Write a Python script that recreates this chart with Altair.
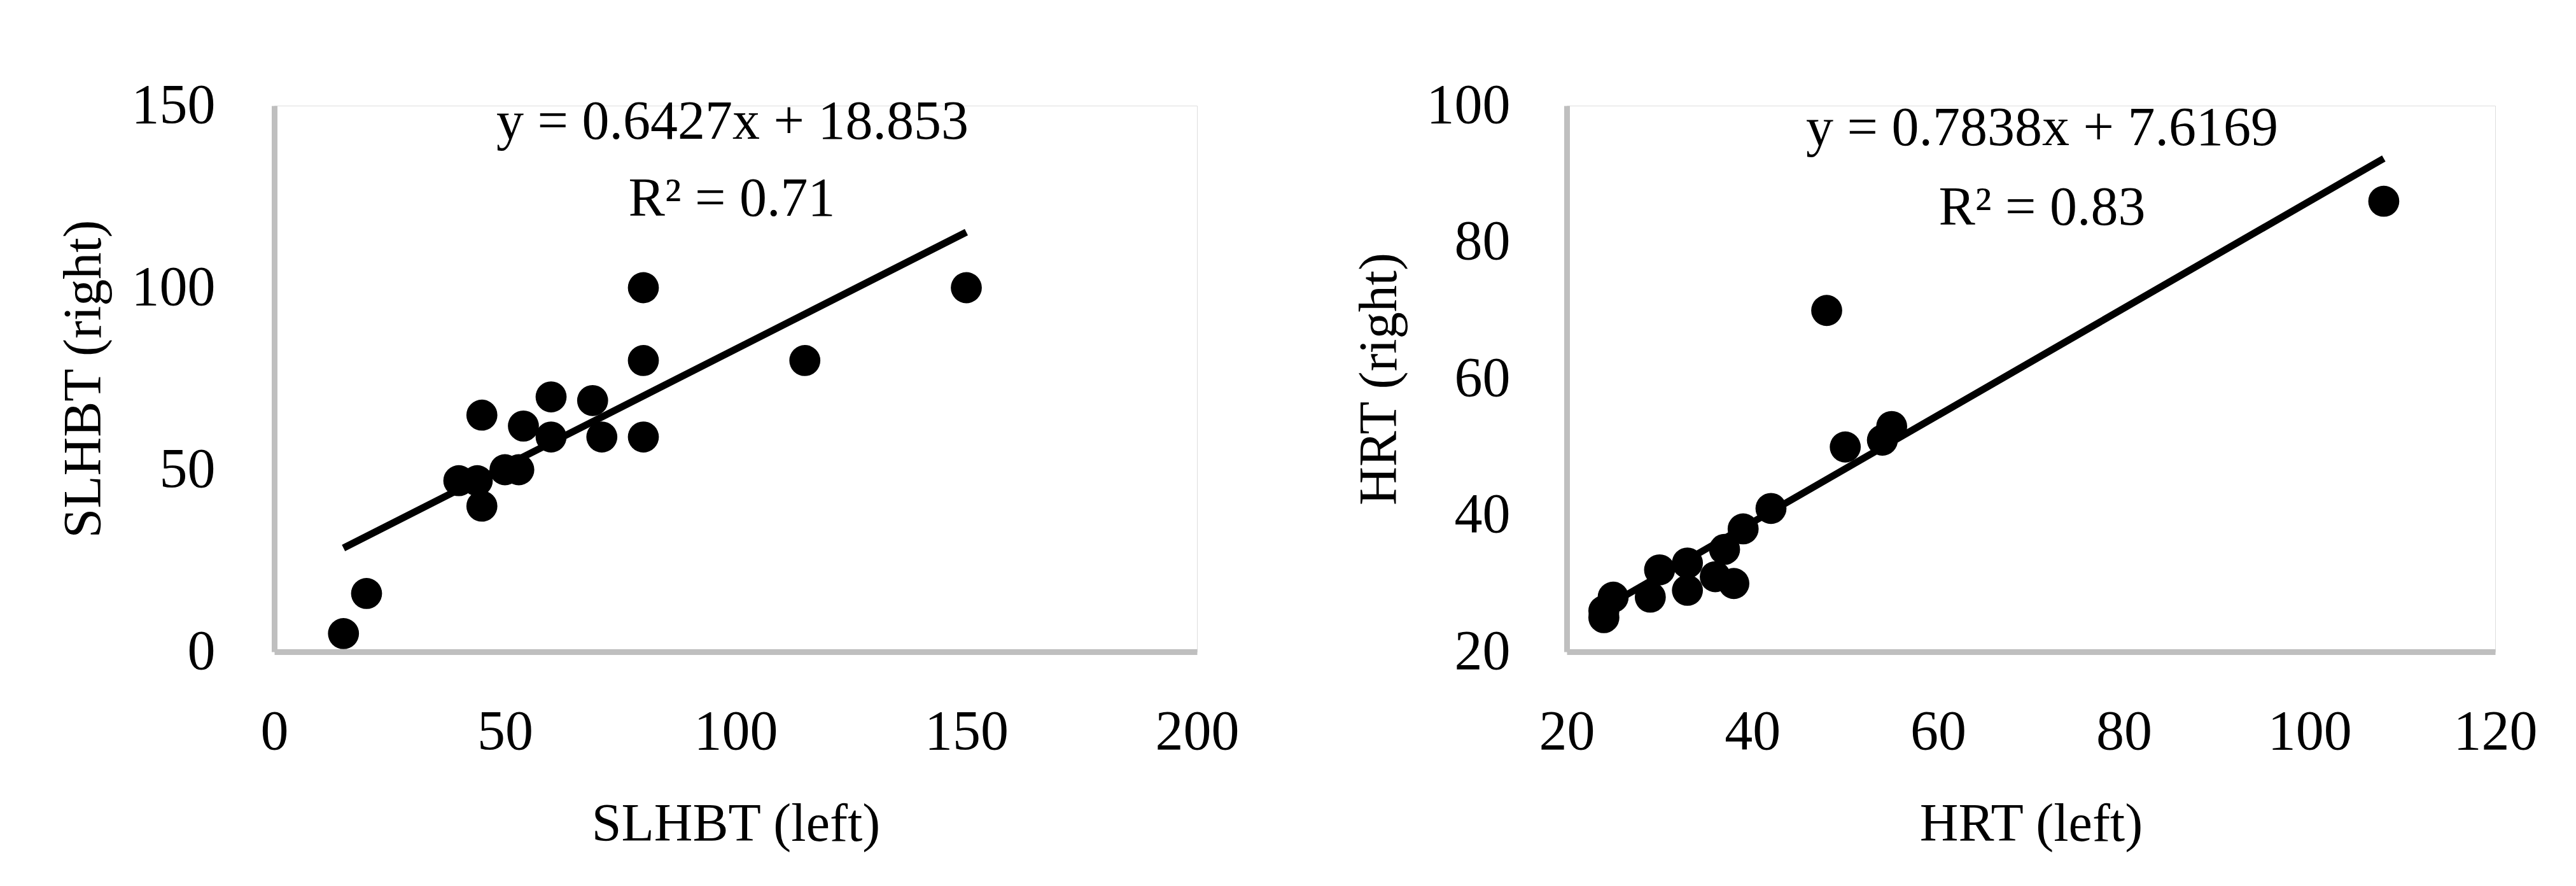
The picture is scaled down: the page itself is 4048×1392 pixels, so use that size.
import altair as alt
import pandas as pd

# ---- data ----
# Left panel: SLHBT (left) vs SLHBT (right)
slhbt_left = [15, 20, 40, 44, 45, 45, 50, 53, 54, 60, 60, 69, 71, 80, 80, 80, 115, 150]
slhbt_right = [5, 16, 47, 47, 65, 40, 50, 50, 62, 70, 59, 69, 59, 100, 80, 59, 80, 100]
# Right panel: HRT (left) vs HRT (right)
hrt_left = [24, 24, 25, 29, 30, 33, 33, 36, 37, 38, 39, 42, 48, 50, 54, 55, 108]
hrt_right = [25, 26, 28, 28, 32, 33, 29, 31, 35, 30, 38, 41, 70, 50, 51, 53, 86]

# Trend-line equations as printed on the chart
slopes = [0.6427, 0.7838]
intercepts = [18.853, 7.6169]
r2_values = ["0.71", "0.83"]
intercept_text = ["18.853", "7.6169"]

x_ticks_left = [0, 50, 100, 150, 200]
y_ticks_left = [0, 50, 100, 150]
x_ticks_right = [20, 40, 60, 80, 100, 120]
y_ticks_right = [20, 40, 60, 80, 100]

FONT = "Liberation Serif"
AXIS_GREY = "#BFBFBF"


def panel(xs, ys, k, xdom, ydom, xticks, yticks, xtitle, ytitle, width, height,
          eq_xy, r2_xy, ylab_pad, ytitle_x):
    df = pd.DataFrame({"x": xs, "y": ys})
    x0, x1 = min(xs), max(xs)
    line_df = pd.DataFrame({
        "x": [x0, x1],
        "y": [slopes[k] * x0 + intercepts[k], slopes[k] * x1 + intercepts[k]],
    })
    ann_df = pd.DataFrame({
        "eq": [f"y = {slopes[k]}x + {intercept_text[k]}"],
        "r2": [f"R\u00b2 = {r2_values[k]}"],
    })

    xscale = alt.Scale(domain=xdom, nice=False, zero=False)
    yscale = alt.Scale(domain=ydom, nice=False, zero=False)

    xaxis = alt.Axis(
        values=xticks, grid=False, ticks=False, tickSize=0,
        domainColor=AXIS_GREY, domainWidth=9,
        labelFont=FONT, labelFontSize=88, labelColor="black", labelPadding=82,
        labelFlush=False, labelOverlap=False,
        title=xtitle, titleFont=FONT, titleFontSize=84, titleFontWeight="normal",
        titleColor="black", titleX=width / 2, titleY=296,
        titleBaseline="alphabetic", titleAlign="center",
    )
    yaxis = alt.Axis(
        values=yticks, grid=False, ticks=False, tickSize=0,
        domainColor=AXIS_GREY, domainWidth=9,
        labelFont=FONT, labelFontSize=88, labelColor="black", labelPadding=ylab_pad,
        labelFlush=False, labelOverlap=False,
        title=ytitle, titleFont=FONT, titleFontSize=84, titleFontWeight="normal",
        titleColor="black", titleX=ytitle_x, titleY=height / 2, titleAngle=-90,
        titleBaseline="alphabetic", titleAlign="center",
    )

    pts = alt.Chart(df).mark_circle(size=2376, color="black", opacity=1).encode(
        x=alt.X("x:Q", scale=xscale, axis=xaxis),
        y=alt.Y("y:Q", scale=yscale, axis=yaxis),
    )
    line = alt.Chart(line_df).mark_line(color="black", strokeWidth=11).encode(
        x=alt.X("x:Q", scale=xscale),
        y=alt.Y("y:Q", scale=yscale),
    )
    eq = alt.Chart(ann_df).mark_text(
        font=FONT, fontSize=86, color="black", align="center", baseline="alphabetic"
    ).encode(x=alt.value(eq_xy[0]), y=alt.value(eq_xy[1]), text="eq:N")
    r2 = alt.Chart(ann_df).mark_text(
        font=FONT, fontSize=86, color="black", align="center", baseline="alphabetic"
    ).encode(x=alt.value(r2_xy[0]), y=alt.value(r2_xy[1]), text="r2:N")

    return alt.layer(pts, line, eq, r2).properties(width=width, height=height)


left = panel(slhbt_left, slhbt_right, 0, [0, 200], [0, 150],
             x_ticks_left, y_ticks_left, "SLHBT (left)", "SLHBT (right)",
             1450, 858, (720, 52), (719, 173), 93, -274)
right = panel(hrt_left, hrt_right, 1, [20, 120], [20, 100],
              x_ticks_right, y_ticks_right, "HRT (left)", "HRT (right)",
              1459, 858, (747, 62), (747, 187), 89, -269)

chart = alt.hconcat(left, right, spacing=581, bounds="flush").properties(
    padding={"left": 81, "top": 113, "right": 5, "bottom": 5}
).configure_view(stroke=None).configure(background="white")

chart.save("out.html", embed_options={"renderer": "svg", "actions": False})
